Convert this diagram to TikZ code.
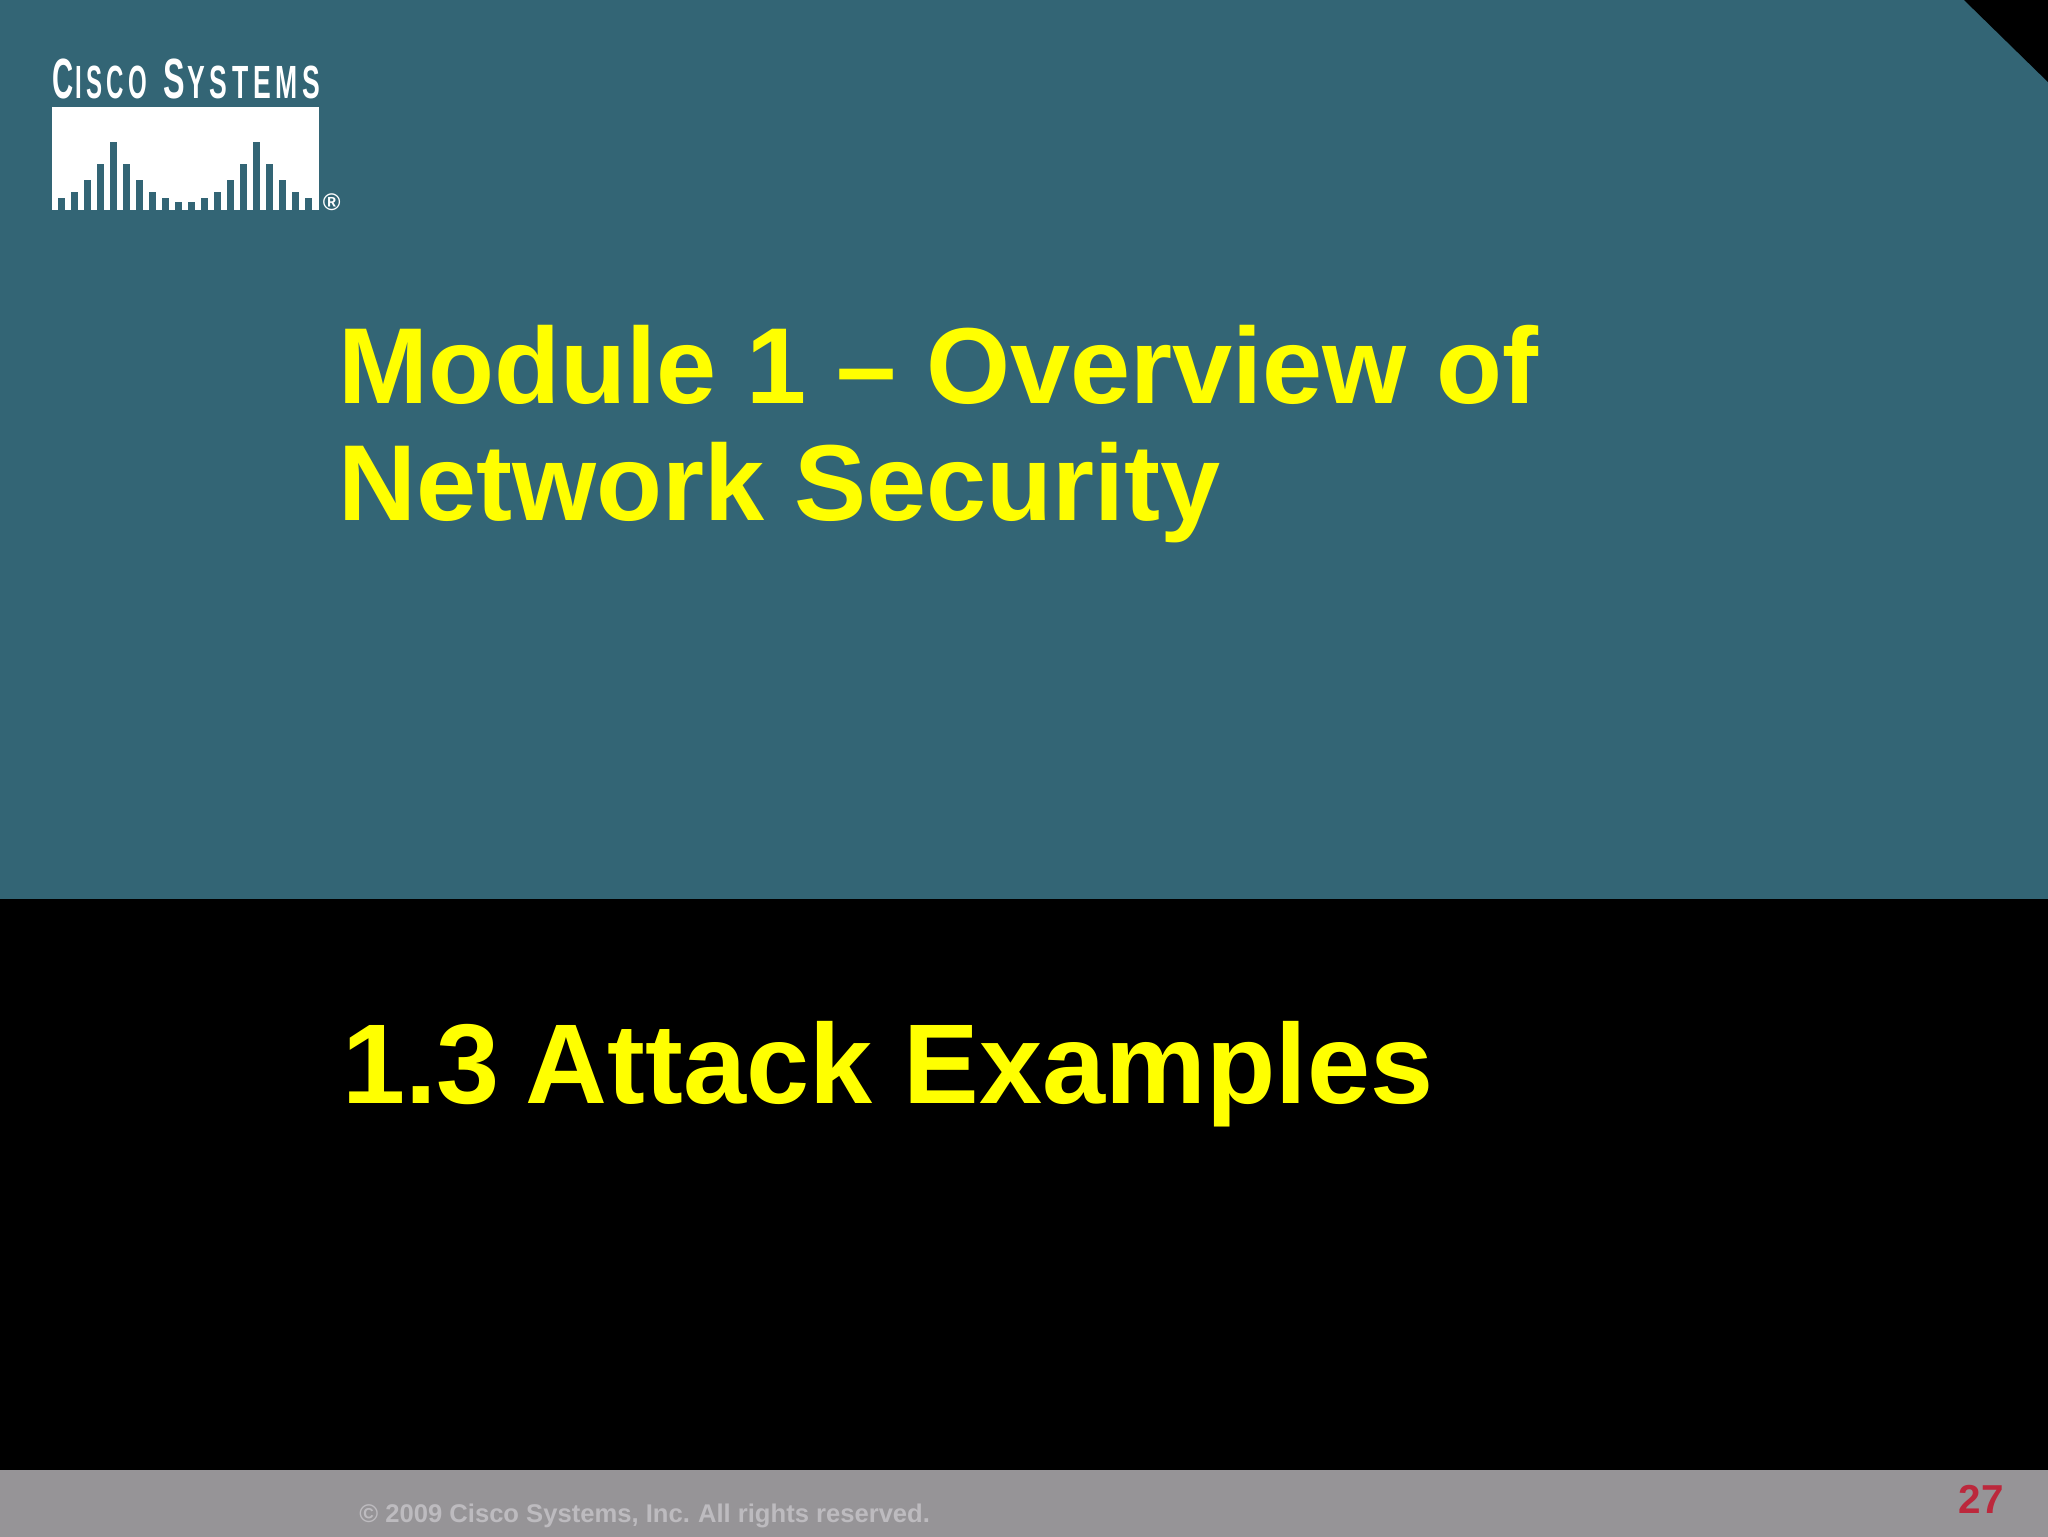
\documentclass[tikz,border=0pt]{standalone}
\usepackage{fontspec}
\usepackage{graphicx}
\setmainfont{Liberation Sans}
\definecolor{slideteal}{HTML}{336575}
\definecolor{slidegrey}{HTML}{969497}
\definecolor{copygrey}{HTML}{BDBBBF}
\definecolor{pagered}{HTML}{BC283C}
\definecolor{slideyellow}{HTML}{FFFF00}
\tikzset{
  titletext/.style={anchor=base west,inner sep=0pt,text=slideyellow,font=\fontsize{54}{62}\selectfont\bfseries,align=left},
  subtext/.style={titletext,font=\fontsize{56.7}{62}\selectfont\bfseries},
  logotext/.style={anchor=base west,inner sep=0pt,text=white,font=\bfseries},
}
\begin{document}
\begin{tikzpicture}[x=0.5pt,y=-0.5pt]
\useasboundingbox (0,0) rectangle (2048,1536);
\fill[slideteal] (0,0) rectangle (2052,899);
\fill[black] (0,899) rectangle (2052,1470);
\fill[slidegrey] (0,1470) rectangle (2052,1540);
\fill[black] (1964,0) -- (2052,0) -- (2052,86) -- cycle;
% logo
\fill[white] (52,107) rectangle (319,209.5);
\foreach \zx/\zy in {95/475,134/455,173/421,212/371,251/307,290/371,329/421,368/455,407/475,446/485,485/485,524/475,563/455,602/421,641/371,680/307,719/371,758/421,797/455,836/475}
  \fill[slideteal] ({30+(\zx-10.5)/3},{40+\zy/3}) rectangle ({30+(\zx+10.5)/3},209.5);
\node[logotext] (logoa) at (52,98.5) {\resizebox{47.5pt}{19.8pt}{\fontsize{28}{28}\selectfont C\hspace{2pt}\fontsize{23}{23}\selectfont\addfontfeature{LetterSpace=18}ISCO}};
\node[logotext] (logob) at (163,98.5) {\resizebox{78.5pt}{19.8pt}{\fontsize{28}{28}\selectfont S\hspace{2pt}\fontsize{23}{23}\selectfont\addfontfeature{LetterSpace=18}YSTEMS}};
\node[anchor=center,inner sep=0pt,text=white,font=\fontsize{12}{12}\selectfont\bfseries] (reg) at (331.7,202.3) {®};
% titles
\node[titletext] (title) at (338,403.5) {Module 1 – Overview of};
\node[titletext] (titleb) at (338,520) {Network Security};
\node[subtext] (sub) at (342,1103) {1.3 \kern-.05em Attack Examples};
% footer
\node[anchor=base west,inner sep=0pt,text=copygrey,font=\fontsize{12.8}{13}\selectfont\bfseries] (copy) at (359,1522) {© 2009 Cisco Systems, Inc. \kern-.05em All rights reserved.};
\node[anchor=base east,inner sep=0pt,text=pagered,font=\fontsize{20.2}{20}\selectfont\bfseries] (page) at (2004,1513) {27};
\end{tikzpicture}
\end{document}
